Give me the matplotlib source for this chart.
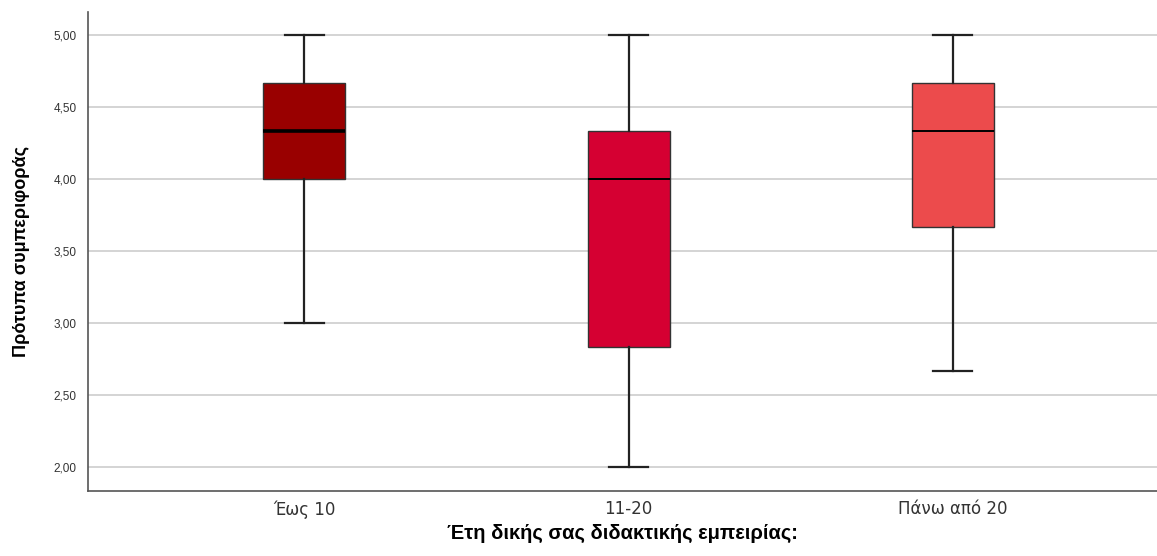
import matplotlib
matplotlib.use("Agg")
import matplotlib.pyplot as plt
from matplotlib.ticker import FuncFormatter

# box statistics
groups = ["Έως 10", "11-20", "Πάνω από 20"]
whislo = [3.00, 2.00, 2.667]
q1 = [4.00, 2.833, 3.667]
med = [4.333, 4.00, 4.333]
q3 = [4.667, 4.333, 4.667]
whishi = [5.00, 5.00, 5.00]
colors = ["#990000", "#D50032", "#EC4B4C"]

stats = []
for i, g in enumerate(groups):
    stats.append({"label": g, "whislo": whislo[i], "q1": q1[i], "med": med[i],
                  "q3": q3[i], "whishi": whishi[i], "fliers": []})

fig = plt.figure(figsize=(11.57, 5.56), dpi=100)
ax = fig.add_axes([0.0761, 0.1175, 0.9239, 0.8605])

bp = ax.bxp(stats, positions=range(len(groups)), widths=0.253, capwidths=0.12,
            patch_artist=True, showfliers=False,
            boxprops=dict(edgecolor="#333333", linewidth=1.0),
            whiskerprops=dict(color="#222222", linewidth=1.6),
            capprops=dict(color="#222222", linewidth=1.6),
            medianprops=dict(color="black", linewidth=1.4))
for patch, c in zip(bp["boxes"], colors):
    patch.set_facecolor(c)
    patch.set_zorder(3)
bp["medians"][0].set_linewidth(2.6)
for ln in bp["whiskers"] + bp["caps"] + bp["medians"]:
    ln.set_zorder(4)

ax.set_xlim(-0.667, 2.63)
ax.set_ylim(1.833, 5.16)
ax.set_yticks([2.0, 2.5, 3.0, 3.5, 4.0, 4.5, 5.0])
ax.yaxis.set_major_formatter(FuncFormatter(lambda v, p: f"{v:.2f}".replace(".", ",")))
ax.grid(axis="y", color="#d4d4d4", linewidth=1.4, zorder=0)
ax.set_axisbelow(True)

for s in ["top", "right"]:
    ax.spines[s].set_visible(False)
for s in ["left", "bottom"]:
    ax.spines[s].set_color("#555555")
    ax.spines[s].set_linewidth(1.2)

ax.tick_params(axis="y", length=0, pad=8, labelcolor="#333333")
ax.tick_params(axis="x", length=0, pad=7, labelsize=12, labelcolor="#333333")
for t in ax.get_yticklabels():
    t.set_fontfamily("Liberation Sans")
    t.set_fontsize(8.5)
ax.set_xticklabels(groups)

ax.set_ylabel("Πρότυπα συμπεριφοράς", fontsize=13, fontweight="bold",
              family="Liberation Sans", labelpad=17)
ax.set_xlabel("Έτη δικής σας διδακτικής εμπειρίας:", fontsize=14.5, fontweight="bold",
              family="Liberation Sans", labelpad=4)

fig.savefig("out.png", dpi=100)
